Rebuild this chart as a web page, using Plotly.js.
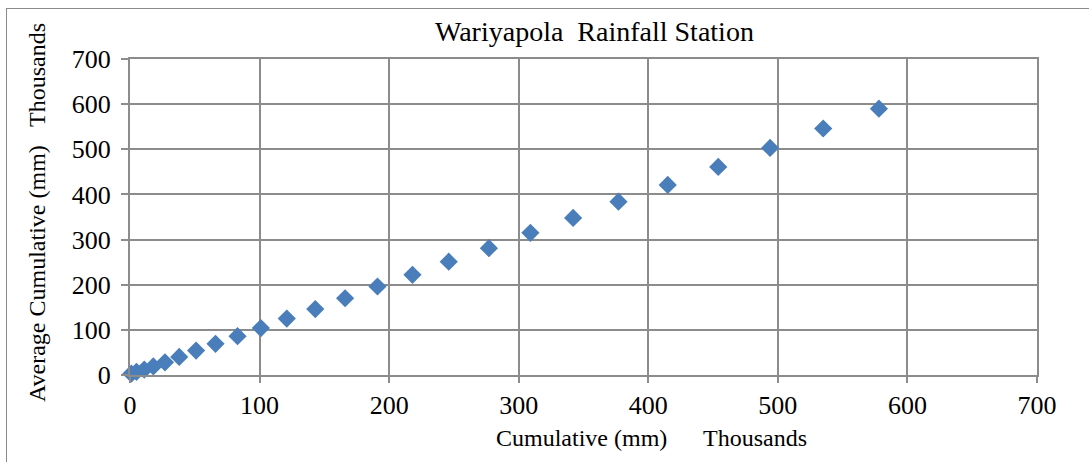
<!DOCTYPE html>
<html>
<head>
<meta charset="utf-8">
<script src="https://cdn.plot.ly/plotly-3.0.1.min.js"></script>
<style>
  html, body { margin: 0; padding: 0; background: #fff; }
  #frame { position: absolute; left: 6px; top: 8px; width: 1100px; height: 470px;
           border-left: 1.5px solid #8a8a8a; border-top: 1.5px solid #8a8a8a; pointer-events: none; }
  #chart { position: absolute; left: 0; top: 0; width: 1089px; height: 462px; }
</style>
</head>
<body>
<div id="chart"></div>
<div id="frame"></div>
<script>
// Values in thousands of mm
const cumulativeStation = [1, 5, 11, 18, 27, 38, 51, 66, 83, 101, 121, 143, 166, 191, 218, 246, 277, 309, 342, 377, 415, 454, 494, 535, 578];
const averageCumulative = [3, 7, 12, 19, 28, 40, 54, 69, 86, 104, 125, 146, 170, 196, 222, 251, 281, 315, 348, 384, 421, 461, 503, 546, 590];
const tickValues = [0, 100, 200, 300, 400, 500, 600, 700];

const font = "Liberation Serif, Times New Roman, serif";
const gridColor = '#8c8c8c';
const fs = 24;
const tfs = 26;

const trace = {
  x: cumulativeStation,
  y: averageCumulative,
  type: 'scatter',
  mode: 'markers',
  marker: { symbol: 'diamond', size: 14, color: '#4a7ebb', line: { width: 0 } },
  cliponaxis: false,
  showlegend: false
};

const layout = {
  width: 1089, height: 462,
  margin: { l: 130, r: 52, t: 59, b: 87 },
  paper_bgcolor: '#ffffff', plot_bgcolor: '#ffffff',
  font: { family: font, size: fs, color: '#000' },
  xaxis: {
    range: [0, 700], tickvals: tickValues, ticktext: tickValues.map(String),
    showgrid: true, gridcolor: gridColor, gridwidth: 2,
    showline: true, linecolor: gridColor, linewidth: 2, mirror: true,
    ticks: 'outside', ticklen: 6, tickcolor: gridColor, tickwidth: 2,
    zeroline: false, tickfont: { family: font, size: tfs, color: '#000' },
    ticklabelstandoff: 0
  },
  yaxis: {
    range: [0, 700], tickvals: tickValues, ticktext: tickValues.map(String),
    showgrid: true, gridcolor: gridColor, gridwidth: 2,
    showline: true, linecolor: gridColor, linewidth: 2, mirror: true,
    ticks: 'outside', ticklen: 7, tickcolor: gridColor, tickwidth: 2,
    zeroline: false, tickfont: { family: font, size: tfs, color: '#000' },
    ticklabelstandoff: 5
  },
  annotations: [
    { text: 'Wariyapola&nbsp;&nbsp;Rainfall Station', xref: 'paper', yref: 'paper',
      x: (594 - 130) / 907, y: 1 + (59 - 32) / 316, xanchor: 'center', yanchor: 'middle',
      showarrow: false, font: { family: font, size: 28, color: '#000' } },
    { text: 'Cumulative (mm)', xref: 'paper', yref: 'paper',
      x: (581 - 130) / 907, y: -(438 - 375) / 316, xanchor: 'center', yanchor: 'middle',
      showarrow: false, font: { family: font, size: fs, color: '#000' } },
    { text: 'Thousands', xref: 'paper', yref: 'paper',
      x: (755 - 130) / 907, y: -(438 - 375) / 316, xanchor: 'center', yanchor: 'middle',
      showarrow: false, font: { family: font, size: fs, color: '#000' } },
    { text: 'Average Cumulative (mm)', xref: 'paper', yref: 'paper', textangle: -90,
      x: -(130 - 37) / 907, y: (375 - 274) / 316, xanchor: 'center', yanchor: 'middle',
      showarrow: false, font: { family: font, size: fs, color: '#000' } },
    { text: 'Thousands', xref: 'paper', yref: 'paper', textangle: -90,
      x: -(130 - 37) / 907, y: (375 - 75) / 316, xanchor: 'center', yanchor: 'middle',
      showarrow: false, font: { family: font, size: fs, color: '#000' } }
  ]
};

Plotly.newPlot('chart', [trace], layout, { displayModeBar: false, staticPlot: true });
</script>
</body>
</html>
